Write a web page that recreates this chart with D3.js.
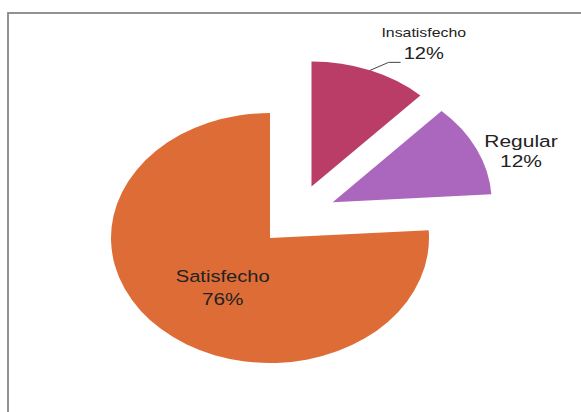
<!DOCTYPE html>
<html>
<head>
<meta charset="utf-8">
<script src="https://cdn.jsdelivr.net/npm/d3@7"></script>
<style>
  html, body { margin: 0; padding: 0; background: #fff; }
  svg { display: block; }
  text { font-family: "Liberation Sans", Arial, sans-serif; fill: #222; }
</style>
</head>
<body>
<svg id="chart" width="581" height="412"></svg>
<script>
// ---- data ----
const categories = ["Insatisfecho", "Regular", "Satisfecho"];
const values = [12, 12, 76];
const pctLabels = ["12%", "12%", "76%"];

// ---- styles / layout ----
const colors = ["#B93D66", "#AB66BD", "#DE6C37"];
const W = 581, H = 412;
const R = 125, SX = 1.272, EXPLODE = 31, CX = 297, CY = 215.4;
const TEXT_SX = 1.22;
const labelPolar = [[29.2, 204.3], [68.86, 188.8], [221.2, 88.7]]; // deg, radius (name baseline anchor)
const nameSize = [13, 17.2, 16.5];
const pctSize = [16.5, 17.2, 17];
const lineGap = [21.6, 19.6, 22.6];
const leader = [true, false, false];

const svg = d3.select("#chart");

// chart area border
svg.append("rect")
  .attr("x", 8).attr("y", 13)
  .attr("width", W + 50).attr("height", H + 50)
  .attr("fill", "none")
  .attr("stroke", "#878787")
  .attr("stroke-width", 1.8);

const pie = d3.pie().sort(null).value(d => d)(values);
const arc = d3.arc().innerRadius(0).outerRadius(R);

const toScreen = (x, y) => [CX + x * SX, CY + y];
const polar = (deg, r) => { const a = deg * Math.PI / 180; return [Math.sin(a) * r, -Math.cos(a) * r]; };

const g = svg.append("g").attr("transform", `translate(${CX},${CY}) scale(${SX},1)`);

g.selectAll("path.slice").data(pie).join("path")
  .attr("class", "slice")
  .attr("transform", d => {
    const mid = (d.startAngle + d.endAngle) / 2;
    return `translate(${Math.sin(mid) * EXPLODE},${-Math.cos(mid) * EXPLODE})`;
  })
  .attr("d", arc)
  .attr("fill", (d, i) => colors[i]);

// labels
pie.forEach((d, i) => {
  const [px, py] = polar(labelPolar[i][0], labelPolar[i][1]);
  const [sx, sy] = toScreen(px, py);
  const lg = svg.append("g").attr("transform", `translate(${sx},${sy}) scale(${TEXT_SX},1)`);
  lg.append("text").attr("x", 0).attr("y", 0)
    .attr("text-anchor", "middle")
    .style("font-size", nameSize[i] + "px")
    .text(categories[i]);
  const pt = lg.append("text").attr("x", 0).attr("y", lineGap[i])
    .attr("text-anchor", "middle")
    .style("font-size", pctSize[i] + "px")
    .text(pctLabels[i]);

  if (leader[i]) {
    const mid = (d.startAngle + d.endAngle) / 2;
    const ox = Math.sin(mid) * (EXPLODE + R), oy = -Math.cos(mid) * (EXPLODE + R);
    const start = toScreen(ox, oy);
    const tw = pt.node().getComputedTextLength() * TEXT_SX;
    const end = [sx - tw / 2 - 3, sy + lineGap[i] + 3.7];
    const elbow = [end[0] - 12, end[1]];
    svg.append("path")
      .attr("d", d3.line()([start, elbow, end]))
      .attr("fill", "none")
      .attr("stroke", "#444")
      .attr("stroke-width", 1);
  }
});
</script>
</body>
</html>
